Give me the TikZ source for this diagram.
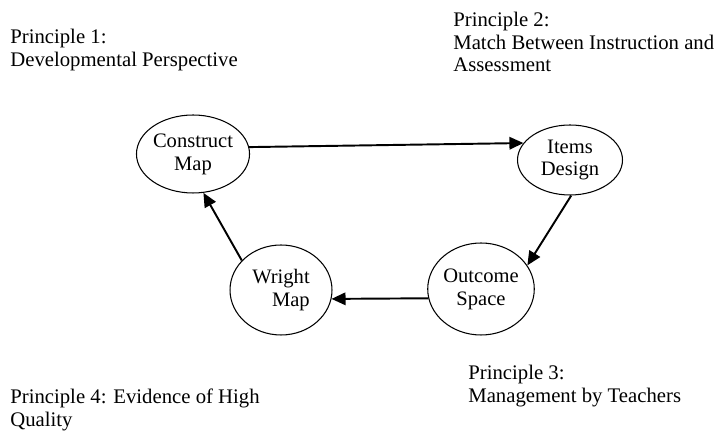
\documentclass[tikz,border=0pt]{standalone}
\usepackage{fontspec}
\setmainfont{Liberation Serif}
\usepackage{tikz}
\usetikzlibrary{arrows.meta,positioning,calc,shapes.geometric}

\tikzset{
  stage/.style={draw, ellipse, line width=0.6pt, inner sep=0pt, align=center,
    font=\fontsize{11.7}{13}\selectfont},
  principle/.style={anchor=north west, inner sep=0pt, align=left,
    font=\fontsize{11.8}{12.8}\selectfont},
  flow/.style={line width=1.1pt, -{Triangle[length=2.8mm,width=2.5mm]}}
}

\begin{document}
\begin{tikzpicture}[x=0.02cm,y=-0.02cm]
    \useasboundingbox (0,0) rectangle (719,431);

    \node [principle] (p1) at (10,29) {Principle 1:\\Developmental Perspective};
    \node [principle] (p2) at (453,12) {Principle 2:\\Match Between Instruction and\\Assessment};
    \node [principle] (p3) at (468,365) {Principle 3:\\Management by Teachers};
    \node [principle] (p4) at (10,389) {Principle 4: Evidence of High\\Quality};

    \node [stage, minimum width=2.08cm, minimum height=1.56cm] (construct) at (193,154) {Construct\\Map};
    \node [stage, minimum width=2.1cm, minimum height=1.4cm] (items) at (570,160) {Items\\Design};
    \node [stage, minimum width=2.06cm, minimum height=1.84cm] (outcome) at (481,289) {Outcome\\Space};
    \node [stage, minimum width=2.04cm, minimum height=1.8cm, align=right] (wright) at (281,290) {Wright\\Map};

    \draw [flow] (construct.7) -- (items.160);
    \draw [flow] (items.272) -- (outcome.27);
    \draw [flow] (outcome.190) -- (wright.-10);
    \draw [flow] (wright.143) -- (construct.-75);
  \end{tikzpicture}
\end{document}
